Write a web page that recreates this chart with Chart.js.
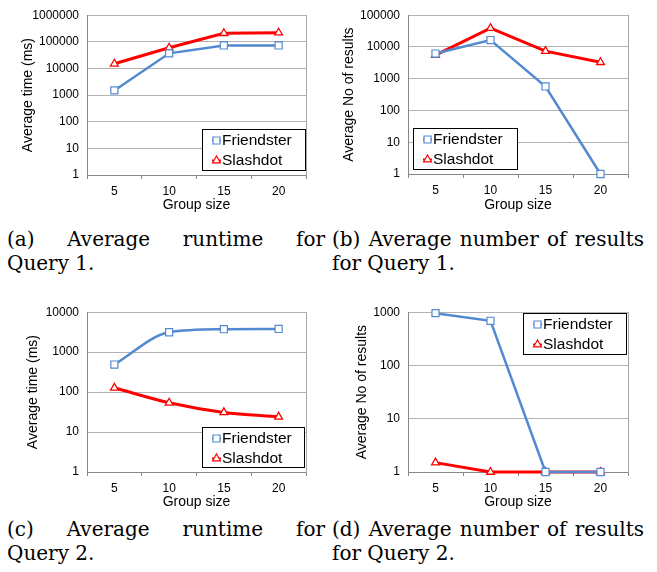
<!DOCTYPE html>
<html>
<head>
<meta charset="utf-8">
<script src="https://cdn.jsdelivr.net/npm/chart.js@4"></script>
<style>
  body { margin: 0; background: #fff; }
  #page { position: relative; width: 657px; height: 572px; overflow: hidden; }
  canvas { position: absolute; }
  .cap { position: absolute; font-family: 'DejaVu Serif', serif; font-size: 20px; line-height: 24px; color: #000; }
  .cap .l1 { text-align: justify; text-align-last: justify; }
</style>
</head>
<body>
<div id="page">
  <canvas id="chartA" width="328" height="220" style="left:0;top:0"></canvas>
  <canvas id="chartB" width="329" height="220" style="left:328px;top:0"></canvas>
  <canvas id="chartC" width="328" height="220" style="left:0;top:297px"></canvas>
  <canvas id="chartD" width="329" height="220" style="left:328px;top:297px"></canvas>

  <div class="cap" style="left:7px;top:227px;width:318px"><div class="l1">(a) Average runtime for</div><div>Query 1.</div></div>
  <div class="cap" style="left:332px;top:227px;width:312px"><div class="l1">(b) Average number of results</div><div>for Query 1.</div></div>
  <div class="cap" style="left:7px;top:517px;width:318px"><div class="l1">(c) Average runtime for</div><div>Query 2.</div></div>
  <div class="cap" style="left:332px;top:517px;width:312px"><div class="l1">(d) Average number of results</div><div>for Query 2.</div></div>
</div>
<script>
const groupSizes = ['5', '10', '15', '20'];
const seriesNames = ['Friendster', 'Slashdot'];

// Query 1
const q1TimeFriendster = [1500, 37000, 73000, 73000];
const q1TimeSlashdot = [15000, 60000, 210000, 220000];
const q1ResultsFriendster = [6200, 16500, 570, 1];
const q1ResultsSlashdot = [5500, 39000, 7400, 3300];

// Query 2
const q2TimeFriendster = [490, 3150, 3750, 3800];
const q2TimeSlashdot = [128, 54, 31, 24];
const q2ResultsFriendster = [960, 690, 1, 1];
const q2ResultsSlashdot = [1.5, 1, 1, 1];

const q1TimeTicks = [1, 10, 100, 1000, 10000, 100000, 1000000];
const q1ResultTicks = [1, 10, 100, 1000, 10000, 100000];
const q2TimeTicks = [1, 10, 100, 1000, 10000];
const q2ResultTicks = [1, 10, 100, 1000];

const BLUE = '#5289D0';
const RED = '#FF0000';

Chart.defaults.font.family = "'Liberation Sans', Arial, sans-serif";
Chart.defaults.color = '#000';

// legend drawn as a framed box inside the plot, like the Excel original
const boxLegend = {
  id: 'boxLegend',
  afterDatasetsDraw(chart, args, opts) {
    const ctx = chart.ctx;
    const { x, y, w, h } = opts;
    ctx.save();
    ctx.fillStyle = '#fff';
    ctx.fillRect(x, y, w, h);
    ctx.strokeStyle = '#000';
    ctx.lineWidth = 1;
    ctx.strokeRect(x + 0.5, y + 0.5, w, h);
    chart.data.datasets.forEach((ds, i) => {
      const cy = y + 11.5 + i * 20;
      const cx = x + 14.5;
      ctx.strokeStyle = ds.borderColor;
      ctx.lineWidth = 2;
      ctx.beginPath();
      ctx.moveTo(x + 10, cy);
      ctx.lineTo(x + 19, cy);
      ctx.stroke();
      ctx.fillStyle = '#fff';
      ctx.lineWidth = 1.2;
      ctx.beginPath();
      if (ds.pointStyle === 'rect') {
        ctx.rect(cx - 3.5, cy - 3.5, 7, 7);
      } else {
        ctx.moveTo(cx, cy - 4.5);
        ctx.lineTo(cx + 3.9, cy + 2.3);
        ctx.lineTo(cx - 3.9, cy + 2.3);
        ctx.closePath();
      }
      ctx.fill();
      ctx.stroke();
      ctx.fillStyle = '#000';
      ctx.font = "15.5px 'Liberation Sans', Arial, sans-serif";
      ctx.textBaseline = 'middle';
      ctx.fillText(ds.label, x + 20, cy + 0.5);
    });
    ctx.restore();
  }
};

function makePanel(id, friendster, slashdot, yTicks, yTitle, titleX, plot, box, smooth) {
  const canvas = document.getElementById(id);
  const W = canvas.width, H = canvas.height;
  const curve = smooth ? { tension: 0.4, cubicInterpolationMode: 'monotone' } : { tension: 0 };
  return new Chart(canvas, {
    type: 'line',
    data: {
      labels: groupSizes,
      datasets: [
        Object.assign({
          label: seriesNames[0],
          data: friendster,
          borderColor: BLUE,
          borderWidth: 2.5,
          pointStyle: 'rect',
          pointRadius: 5,
          pointBorderWidth: 1.2,
          pointBorderColor: BLUE,
          pointBackgroundColor: '#fff',
          clip: false
        }, curve),
        Object.assign({
          label: seriesNames[1],
          data: slashdot,
          borderColor: RED,
          borderWidth: 3,
          pointStyle: 'triangle',
          pointRadius: 4.5,
          pointBorderWidth: 1.3,
          pointBorderColor: RED,
          pointBackgroundColor: '#fff',
          clip: false
        }, curve)
      ]
    },
    options: {
      responsive: false,
      animation: false,
      layout: { padding: { left: 0, top: plot.t, right: W - plot.r, bottom: 0 } },
      plugins: {
        legend: { display: false },
        tooltip: { enabled: false },
        boxLegend: box
      },
      scales: {
        x: {
          type: 'category',
          offset: true,
          grid: { offset: true, drawOnChartArea: false, tickLength: 4, color: '#868686' },
          border: { color: '#868686' },
          ticks: { padding: 5, font: { size: 12 }, maxRotation: 0, autoSkip: false },
          title: { display: true, text: 'Group size', font: { size: 14 }, padding: { top: 0, bottom: 6 } },
          afterFit: s => { s.height = H - plot.b; }
        },
        y: {
          type: 'logarithmic',
          min: yTicks[0],
          max: yTicks[yTicks.length - 1],
          afterBuildTicks: s => { s.ticks = yTicks.map(v => ({ value: v })); },
          ticks: { callback: v => String(v), padding: 8, font: { size: 12 } },
          grid: { color: '#b3b3b3', drawTicks: false },
          border: { color: '#868686' },
          title: { display: true, text: yTitle, font: { size: 14 }, padding: { top: titleX - 8.4, bottom: 0 } },
          afterFit: s => { s.width = plot.l; }
        },
        frame: {
          type: 'linear',
          position: 'right',
          ticks: { display: false },
          grid: { drawOnChartArea: false, drawTicks: false },
          border: { color: '#a6a6a6' },
          afterFit: s => { s.width = 0; }
        }
      }
    },
    plugins: [boxLegend]
  });
}

makePanel('chartA', q1TimeFriendster, q1TimeSlashdot, q1TimeTicks, 'Average time (ms)', 28,
  { l: 87, t: 13, r: 306, b: 175 }, { x: 202, y: 129, w: 103, h: 41 }, false);
makePanel('chartB', q1ResultsFriendster, q1ResultsSlashdot, q1ResultTicks, 'Average No of results', 21,
  { l: 80, t: 13, r: 300, b: 174 }, { x: 85, y: 128, w: 104, h: 41 }, false);
makePanel('chartC', q2TimeFriendster, q2TimeSlashdot, q2TimeTicks, 'Average time (ms)', 33,
  { l: 87, t: 13, r: 306, b: 175 }, { x: 202, y: 130, w: 102, h: 40 }, true);
makePanel('chartD', q2ResultsFriendster, q2ResultsSlashdot, q2ResultTicks, 'Average No of results', 34,
  { l: 80, t: 14, r: 300, b: 175 }, { x: 195, y: 16, w: 103, h: 41 }, false);
</script>
</body>
</html>
